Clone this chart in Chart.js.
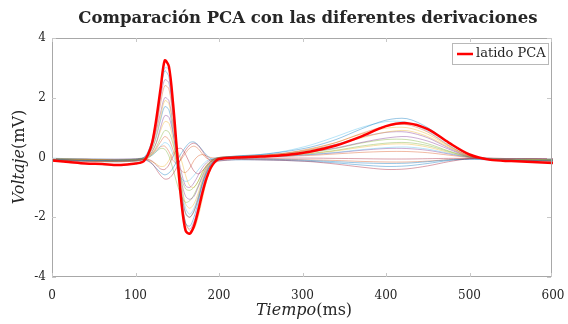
<!DOCTYPE html>
<html>
<head>
<meta charset="utf-8">
<script src="https://cdn.jsdelivr.net/npm/chart.js@4"></script>
<style>
  html, body { margin: 0; padding: 0; background: #fff; }
</style>
</head>
<body>
<canvas id="ecgChart" width="568" height="324"></canvas>
<script>
// muestras de tiempo (ms)
const tiempo = [0, 20, 40, 60, 80, 100, 105, 110, 115, 120, 125, 130, 135, 140, 145, 150, 155, 160, 165, 170,
  175, 180, 185, 190, 195, 200, 220, 250, 280, 310, 340, 370, 400, 425, 450, 475, 500, 525, 550, 575, 600];

const latidoPCA = [-0.1, -0.15, -0.2, -0.22, -0.25, -0.2, -0.18, -0.12, 0.1, 0.5, 1.3, 2.3, 3.25, 3.05, 1.8, 0.1, -1.5, -2.45, -2.55, -2.3,
  -1.8, -1.2, -0.7, -0.35, -0.15, -0.05, 0.0, 0.03, 0.08, 0.2, 0.4, 0.7, 1.05, 1.15, 0.95, 0.5, 0.1, -0.08, -0.12, -0.15, -0.18];

const derivaciones = [
  [-0.05, -0.08, -0.1, -0.1, -0.1, -0.08, -0.05, 0.0, 0.2, 0.6, 1.3, 2.2, 2.9, 2.7, 1.5, 0.0, -1.4, -2.2, -2.3, -2.0, -1.5, -0.9, -0.5, -0.25, -0.1, -0.02, 0.05, 0.1, 0.2, 0.35, 0.6, 0.95, 1.25, 1.3, 1.0, 0.5, 0.08, -0.05, -0.08, -0.1, -0.1],
  [-0.08, -0.1, -0.12, -0.12, -0.12, -0.1, -0.08, -0.04, 0.12, 0.45, 1.0, 1.8, 2.4, 2.3, 1.3, 0.1, -1.1, -1.9, -2.0, -1.8, -1.35, -0.85, -0.45, -0.2, -0.08, 0.0, 0.04, 0.08, 0.15, 0.3, 0.5, 0.8, 1.05, 1.1, 0.85, 0.4, 0.05, -0.06, -0.1, -0.1, -0.12],
  [-0.05, -0.06, -0.08, -0.08, -0.1, -0.08, -0.06, -0.03, 0.08, 0.3, 0.75, 1.35, 1.9, 1.8, 1.0, 0.05, -0.9, -1.55, -1.7, -1.55, -1.2, -0.75, -0.4, -0.18, -0.06, 0.0, 0.03, 0.06, 0.12, 0.25, 0.42, 0.65, 0.85, 0.9, 0.7, 0.35, 0.04, -0.05, -0.08, -0.08, -0.1],
  [-0.1, -0.1, -0.12, -0.12, -0.12, -0.1, -0.08, -0.05, 0.05, 0.2, 0.5, 1.0, 1.4, 1.35, 0.8, 0.0, -0.8, -1.3, -1.4, -1.3, -1.0, -0.65, -0.35, -0.15, -0.05, 0.0, 0.02, 0.05, 0.1, 0.2, 0.32, 0.5, 0.65, 0.7, 0.55, 0.28, 0.02, -0.06, -0.1, -0.1, -0.12],
  [-0.05, -0.05, -0.06, -0.08, -0.08, -0.06, -0.04, -0.02, 0.04, 0.15, 0.35, 0.65, 0.9, 0.85, 0.45, -0.1, -0.7, -1.05, -1.1, -1.0, -0.8, -0.5, -0.28, -0.12, -0.04, 0.0, 0.02, 0.04, 0.08, 0.14, 0.24, 0.38, 0.48, 0.5, 0.4, 0.2, 0.02, -0.04, -0.06, -0.06, -0.08],
  [-0.02, -0.04, -0.05, -0.05, -0.06, -0.05, -0.04, -0.02, 0.02, 0.08, 0.2, 0.38, 0.5, 0.42, 0.1, -0.35, -0.7, -0.8, -0.75, -0.6, -0.42, -0.25, -0.12, -0.05, -0.02, 0.0, 0.01, 0.03, 0.05, 0.1, 0.17, 0.26, 0.33, 0.35, 0.28, 0.14, 0.01, -0.03, -0.05, -0.05, -0.06],
  [-0.05, -0.06, -0.06, -0.08, -0.08, -0.06, -0.05, -0.05, -0.1, -0.2, -0.4, -0.6, -0.72, -0.7, -0.55, -0.3, 0.0, 0.25, 0.42, 0.48, 0.4, 0.22, 0.02, -0.12, -0.16, -0.12, -0.07, -0.08, -0.1, -0.14, -0.22, -0.32, -0.4, -0.38, -0.28, -0.14, -0.04, -0.02, -0.04, -0.04, -0.05],
  [-0.08, -0.08, -0.1, -0.1, -0.1, -0.08, -0.08, -0.08, -0.12, -0.22, -0.36, -0.5, -0.58, -0.52, -0.35, -0.1, 0.15, 0.35, 0.5, 0.52, 0.42, 0.25, 0.08, -0.04, -0.1, -0.1, -0.08, -0.08, -0.1, -0.13, -0.18, -0.25, -0.3, -0.28, -0.2, -0.1, -0.05, -0.06, -0.07, -0.07, -0.08],
  [-0.06, -0.06, -0.08, -0.08, -0.1, -0.08, -0.06, -0.04, 0.0, 0.1, 0.25, 0.36, 0.38, 0.2, -0.1, -0.2, -0.05, 0.15, 0.32, 0.38, 0.3, 0.12, -0.02, -0.08, -0.06, -0.04, 0.0, 0.02, 0.04, 0.07, 0.12, 0.17, 0.2, 0.2, 0.16, 0.08, 0.0, -0.03, -0.05, -0.05, -0.06],
  [-0.1, -0.1, -0.12, -0.14, -0.14, -0.12, -0.1, -0.06, 0.04, 0.2, 0.5, 0.9, 1.2, 1.15, 0.6, -0.4, -1.5, -2.2, -2.45, -2.4, -2.0, -1.4, -0.8, -0.4, -0.15, -0.05, 0.02, 0.06, 0.14, 0.28, 0.5, 0.78, 0.98, 1.0, 0.78, 0.38, 0.04, -0.06, -0.1, -0.1, -0.12],
  [-0.04, -0.05, -0.06, -0.06, -0.06, -0.05, -0.03, 0.0, 0.12, 0.4, 0.9, 1.5, 2.0, 1.9, 1.1, 0.2, -0.5, -0.95, -1.0, -0.85, -0.6, -0.35, -0.18, -0.08, -0.03, 0.0, 0.02, 0.03, 0.05, 0.1, 0.16, 0.24, 0.3, 0.3, 0.24, 0.12, 0.01, -0.03, -0.04, -0.04, -0.05],
  [-0.08, -0.1, -0.1, -0.12, -0.12, -0.1, -0.08, -0.06, -0.02, 0.08, 0.2, 0.3, 0.28, 0.05, -0.4, -0.9, -1.3, -1.5, -1.45, -1.25, -0.95, -0.6, -0.32, -0.15, -0.06, -0.02, 0.01, 0.04, 0.09, 0.18, 0.3, 0.48, 0.6, 0.6, 0.46, 0.22, 0.02, -0.05, -0.08, -0.08, -0.1],
  [-0.06, -0.08, -0.1, -0.1, -0.12, -0.1, -0.08, -0.04, 0.14, 0.5, 1.2, 2.2, 3.0, 2.95, 1.8, 0.3, -0.9, -1.7, -1.9, -1.7, -1.3, -0.8, -0.42, -0.2, -0.08, -0.02, 0.04, 0.1, 0.22, 0.42, 0.7, 1.0, 1.2, 1.18, 0.88, 0.42, 0.05, -0.06, -0.09, -0.1, -0.11],
  [-0.04, -0.05, -0.05, -0.06, -0.06, -0.05, -0.04, -0.04, -0.06, -0.12, -0.25, -0.38, -0.4, -0.25, 0.05, 0.28, 0.3, 0.1, -0.2, -0.45, -0.55, -0.45, -0.28, -0.14, -0.06, -0.03, -0.02, -0.02, -0.02, -0.02, -0.03, -0.04, -0.05, -0.05, -0.04, -0.03, -0.03, -0.04, -0.04, -0.04, -0.05],
  [-0.1, -0.12, -0.12, -0.14, -0.14, -0.12, -0.1, -0.06, 0.06, 0.3, 0.7, 1.25, 1.7, 1.6, 0.85, -0.2, -1.2, -1.85, -2.0, -1.8, -1.4, -0.9, -0.5, -0.24, -0.1, -0.05, -0.04, -0.05, -0.07, -0.1, -0.14, -0.18, -0.2, -0.19, -0.14, -0.08, -0.06, -0.08, -0.1, -0.1, -0.12],
  [-0.05, -0.06, -0.07, -0.08, -0.08, -0.07, -0.05, -0.03, 0.03, 0.12, 0.3, 0.52, 0.7, 0.6, 0.25, -0.2, -0.45, -0.5, -0.35, -0.1, 0.05, 0.1, 0.05, 0.0, -0.02, -0.03, -0.04, -0.05, -0.06, -0.08, -0.1, -0.13, -0.15, -0.15, -0.12, -0.07, -0.04, -0.05, -0.06, -0.06, -0.07],
  [-0.07, -0.08, -0.08, -0.1, -0.1, -0.08, -0.07, -0.06, -0.08, -0.14, -0.22, -0.3, -0.28, -0.1, 0.15, 0.2, -0.1, -0.6, -0.95, -1.0, -0.8, -0.5, -0.26, -0.12, -0.05, -0.02, 0.0, 0.03, 0.07, 0.13, 0.22, 0.34, 0.44, 0.45, 0.35, 0.17, 0.01, -0.04, -0.06, -0.07, -0.08],
  [-0.08, -0.1, -0.12, -0.12, -0.14, -0.12, -0.1, -0.06, 0.1, 0.45, 1.1, 2.0, 2.6, 2.5, 1.5, 0.0, -1.3, -2.2, -2.4, -2.15, -1.65, -1.05, -0.55, -0.25, -0.1, -0.03, 0.03, 0.07, 0.14, 0.26, 0.44, 0.68, 0.84, 0.85, 0.66, 0.32, 0.03, -0.06, -0.1, -0.1, -0.12]
];

const yTicks = [-4, -2, 0, 2, 4];
const xTicks = [0, 100, 200, 300, 400, 500, 600];

// colores por defecto de matlab, algo transparentes
const coloresMatlab = [
  'rgba(0,114,189,0.5)', 'rgba(217,83,25,0.5)', 'rgba(237,177,32,0.5)', 'rgba(126,47,142,0.5)',
  'rgba(119,172,48,0.5)', 'rgba(77,190,238,0.5)', 'rgba(162,20,47,0.5)'
];

const serif = '"DejaVu Serif", "Liberation Serif", serif';
const textColor = '#262626';

const toPoints = vals => vals.map((v, i) => ({ x: tiempo[i], y: v }));

const datasets = [{
  label: 'latido PCA',
  data: toPoints(latidoPCA),
  borderColor: '#ff0000',
  borderWidth: 2.5,
  pointRadius: 0,
  tension: 0.3,
  order: 0
}];
derivaciones.forEach((d, i) => {
  datasets.push({
    label: 'deriv' + (i + 1),
    data: toPoints(d),
    borderColor: coloresMatlab[i % coloresMatlab.length],
    borderWidth: 0.8,
    pointRadius: 0,
    tension: 0.3,
    order: 1
  });
});

// titulo, etiquetas, caja y leyenda al estilo matlab
const decor = {
  id: 'decor',
  afterDraw(chart) {
    const { ctx, chartArea: a, scales } = chart;
    ctx.save();

    // caja
    ctx.strokeStyle = '#a8a8a8';
    ctx.lineWidth = 1;
    ctx.beginPath();
    ctx.moveTo(a.left + 0.5, a.top + 0.5);
    ctx.lineTo(a.right - 1.5, a.top + 0.5);
    ctx.lineTo(a.right - 1.5, a.bottom - 0.5);
    ctx.lineTo(a.left + 0.5, a.bottom - 0.5);
    ctx.closePath();
    ctx.stroke();

    // marcas de ticks hacia dentro
    ctx.strokeStyle = '#c8c8c8';
    ctx.beginPath();
    xTicks.forEach(v => {
      const px = Math.min(Math.round(scales.x.getPixelForValue(v)), a.right - 2) + 0.5;
      ctx.moveTo(px, a.bottom); ctx.lineTo(px, a.bottom - 4);
      ctx.moveTo(px, a.top); ctx.lineTo(px, a.top + 4);
    });
    yTicks.forEach(v => {
      const py = Math.round(scales.y.getPixelForValue(v)) + 0.5;
      ctx.moveTo(a.left, py); ctx.lineTo(a.left + 4, py);
      ctx.moveTo(a.right - 2, py); ctx.lineTo(a.right - 6, py);
    });
    ctx.stroke();

    ctx.fillStyle = textColor;
    // titulo
    ctx.font = 'bold 16.5px ' + serif;
    ctx.textAlign = 'center';
    ctx.textBaseline = 'middle';
    ctx.fillText('Comparación PCA con las diferentes derivaciones', 308, 19);

    // etiquetas de los ejes: parte en cursiva y unidades rectas
    const drawMixed = (cx, cy, italicPart, romanPart) => {
      ctx.font = 'italic 16px ' + serif;
      const w1 = ctx.measureText(italicPart).width;
      ctx.font = '16px ' + serif;
      const w2 = ctx.measureText(romanPart).width;
      const x0 = cx - (w1 + w2) / 2;
      ctx.textAlign = 'left';
      ctx.font = 'italic 16px ' + serif;
      ctx.fillText(italicPart, x0, cy);
      ctx.font = '16px ' + serif;
      ctx.fillText(romanPart, x0 + w1, cy);
    };
    drawMixed(304, 311, 'Tiempo', '(ms)');

    ctx.save();
    ctx.translate(20, 157);
    ctx.rotate(-Math.PI / 2);
    drawMixed(0, 0, 'Voltaje', '(mV)');
    ctx.restore();

    // leyenda
    const lx = 452, ly = 43, lw = 96, lh = 21;
    ctx.fillStyle = '#fff';
    ctx.fillRect(lx, ly, lw, lh);
    ctx.strokeStyle = '#b8b8b8';
    ctx.strokeRect(lx + 0.5, ly + 0.5, lw, lh);
    ctx.strokeStyle = '#ff0000';
    ctx.lineWidth = 2.5;
    ctx.beginPath();
    ctx.moveTo(457, 54);
    ctx.lineTo(473, 54);
    ctx.stroke();
    ctx.fillStyle = textColor;
    ctx.font = '13px ' + serif;
    ctx.textAlign = 'left';
    ctx.fillText('latido PCA', 476, 54);

    ctx.restore();
  }
};

new Chart(document.getElementById('ecgChart'), {
  type: 'line',
  data: { datasets: datasets },
  options: {
    responsive: false,
    animation: false,
    devicePixelRatio: 1,
    layout: { padding: { left: 0, right: 15, top: 38, bottom: 0 } },
    plugins: {
      legend: { display: false },
      title: { display: false },
      tooltip: { enabled: false }
    },
    scales: {
      x: {
        type: 'linear',
        min: 0,
        max: 600,
        afterBuildTicks: s => { s.ticks = xTicks.map(v => ({ value: v })); },
        afterFit: s => { s.height = 47; s.paddingLeft = 0; s.paddingRight = 0; },
        grid: { display: false, drawTicks: false },
        border: { display: false },
        ticks: { color: textColor, font: { family: serif, size: 12 }, padding: 12, maxRotation: 0 }
      },
      y: {
        min: -4,
        max: 4,
        afterBuildTicks: s => { s.ticks = yTicks.map(v => ({ value: v })); },
        afterFit: s => { s.width = 52; s.paddingTop = 0; s.paddingBottom = 0; },
        grid: { display: false, drawTicks: false },
        border: { display: false },
        ticks: { color: textColor, font: { family: serif, size: 12 }, padding: 6 }
      }
    }
  },
  plugins: [decor]
});
</script>
</body>
</html>
